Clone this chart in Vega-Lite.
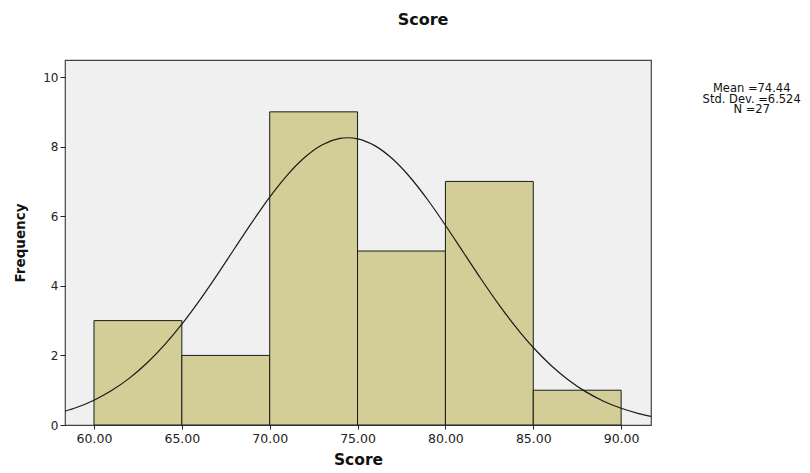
{
  "$schema": "https://vega.github.io/schema/vega-lite/v6.json",
  "width": 586,
  "height": 365,
  "autosize": {"type": "none"},
  "padding": {"left": 65, "top": 60, "right": 159, "bottom": 48},
  "background": "white",
  "config": {
    "font": "DejaVu Sans",
    "view": {"fill": "#f0f0f0", "stroke": "#444444", "strokeWidth": 1.2},
    "axis": {"labelFont": "DejaVu Sans", "titleFont": "DejaVu Sans", "labelColor": "#222222", "titleColor": "#111111", "grid": false, "domain": false}
  },
  "title": {"text": "Score", "fontSize": 16, "font": "DejaVu Sans", "fontWeight": "bold", "color": "#111111", "anchor": "middle", "dx": 65, "offset": 32},
  "datasets": {
    "bins": [
      {"start": 60, "end": 65, "count": 3},
      {"start": 65, "end": 70, "count": 2},
      {"start": 70, "end": 75, "count": 9},
      {"start": 75, "end": 80, "count": 5},
      {"start": 80, "end": 85, "count": 7},
      {"start": 85, "end": 90, "count": 1}
    ],
    "curve": [
      {"score": 58.35, "freq": 0.395},
      {"score": 59, "freq": 0.502},
      {"score": 60, "freq": 0.713},
      {"score": 61, "freq": 0.989},
      {"score": 62, "freq": 1.340},
      {"score": 63, "freq": 1.774},
      {"score": 64, "freq": 2.295},
      {"score": 65, "freq": 2.898},
      {"score": 66, "freq": 3.575},
      {"score": 67, "freq": 4.308},
      {"score": 68, "freq": 5.072},
      {"score": 69, "freq": 5.831},
      {"score": 70, "freq": 6.549},
      {"score": 71, "freq": 7.184},
      {"score": 72, "freq": 7.697},
      {"score": 73, "freq": 8.056},
      {"score": 74, "freq": 8.236},
      {"score": 74.44, "freq": 8.255},
      {"score": 75, "freq": 8.225},
      {"score": 76, "freq": 8.022},
      {"score": 77, "freq": 7.643},
      {"score": 78, "freq": 7.113},
      {"score": 79, "freq": 6.466},
      {"score": 80, "freq": 5.741},
      {"score": 81, "freq": 4.980},
      {"score": 82, "freq": 4.218},
      {"score": 83, "freq": 3.490},
      {"score": 84, "freq": 2.822},
      {"score": 85, "freq": 2.227},
      {"score": 86, "freq": 1.718},
      {"score": 87, "freq": 1.294},
      {"score": 88, "freq": 0.952},
      {"score": 89, "freq": 0.684},
      {"score": 90, "freq": 0.480},
      {"score": 91, "freq": 0.329},
      {"score": 91.7, "freq": 0.249}
    ]
  },
  "layer": [
    {
      "data": {"name": "bins"},
      "mark": {"type": "rect", "fill": "#d3ce97", "stroke": "#1a1a1a", "strokeWidth": 1},
      "encoding": {
        "x": {"field": "start", "type": "quantitative",
              "scale": {"domain": [58.35, 91.7], "nice": false, "zero": false},
              "axis": {"values": [60, 65, 70, 75, 80, 85, 90], "format": ".2f", "ticks": true, "tickSize": 4, "tickColor": "#222222", "labelPadding": 3, "labelFontSize": 12.5, "title": "Score", "titleFontSize": 15.5, "titleFontWeight": "bold", "titlePadding": 8}},
        "x2": {"field": "end"},
        "y": {"field": "count", "type": "quantitative",
              "scale": {"domain": [0, 10.49], "nice": false},
              "axis": {"values": [0, 2, 4, 6, 8, 10], "tickSize": 5, "tickColor": "#222222", "labelFontSize": 12, "labelPadding": 2, "title": "Frequency", "titleFontSize": 13.5, "titleFontWeight": "bold", "titlePadding": 15}},
        "y2": {"datum": 0}
      }
    },
    {
      "data": {"name": "curve"},
      "mark": {"type": "line", "color": "#1a1a1a", "strokeWidth": 1.2, "interpolate": "monotone", "clip": true},
      "encoding": {
        "x": {"field": "score", "type": "quantitative"},
        "y": {"field": "freq", "type": "quantitative"}
      }
    },
    {
      "data": {"values": [{"label": "Mean =74.44\nStd. Dev. =6.524\nN =27"}]},
      "mark": {"type": "text", "lineBreak": "\n", "align": "center", "baseline": "top", "fontSize": 11.5, "lineHeight": 10.5, "color": "#111111", "clip": false},
      "encoding": {
        "x": {"datum": 97.43},
        "y": {"datum": 9.82},
        "text": {"field": "label"}
      }
    }
  ]
}
